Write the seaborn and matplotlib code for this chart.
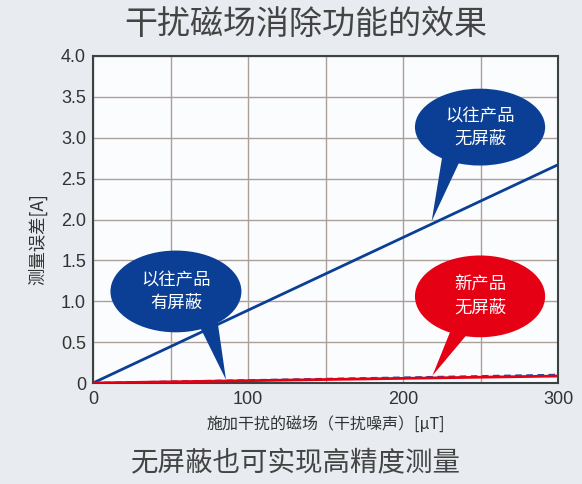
import matplotlib
matplotlib.use("Agg")
import matplotlib.pyplot as plt
import seaborn as sns
import pandas as pd
from matplotlib.patches import Ellipse, Polygon

# ---- data ----
field_uT = [0, 300]
old_unshielded = [0.0, 2.67]
old_shielded = [0.0, 0.10]
new_unshielded = [0.0, 0.085]
x_ticks = [0, 100, 200, 300]
y_ticks = [0, 0.5, 1.0, 1.5, 2.0, 2.5, 3.0, 3.5, 4.0]
y_tick_labels = ["0", "0.5", "1.0", "1.5", "2.0", "2.5", "3.0", "3.5", "4.0"]

title = "干扰磁场消除功能的效果"
subtitle = "无屏蔽也可实现高精度测量"
xlabel = "施加干扰的磁场（干扰噪声）[μT]"
ylabel = "测量误差[A]"

BLUE = "#0b3f95"
RED = "#e50014"
BG = "#e8ecf0"
CJK = ['Noto Sans CJK SC', 'DejaVu Sans']
NUM = ['Liberation Sans', 'Noto Sans CJK SC']

sns.set_theme(style="white")
plt.rcParams['font.family'] = CJK

df = pd.concat([
    pd.DataFrame({"x": field_uT, "y": old_unshielded, "s": "old_unshielded"}),
    pd.DataFrame({"x": field_uT, "y": old_shielded, "s": "old_shielded"}),
    pd.DataFrame({"x": field_uT, "y": new_unshielded, "s": "new_unshielded"}),
])

fig = plt.figure(figsize=(5.82, 4.84), dpi=100, facecolor=BG)
ax = fig.add_axes([93/582, 1-383/484, (558-93)/582, (383-56)/484])
ax.set_facecolor("#fbfcfd")

sns.lineplot(data=df[df.s == "old_unshielded"], x="x", y="y", color=BLUE, lw=2.0, ax=ax, zorder=3)
sns.lineplot(data=df[df.s == "old_shielded"], x="x", y="y", color="#1f4fa8", lw=1.6, ls=(0, (3, 2)), ax=ax, zorder=3)
sns.lineplot(data=df[df.s == "new_unshielded"], x="x", y="y", color=RED, lw=2.0, ax=ax, zorder=4)

ax.set_xlim(0, 300)
ax.set_ylim(0, 4.0)
ax.set_xticks(x_ticks)
ax.set_xticks([50, 150, 250], minor=True)
ax.set_yticks(y_ticks)
ax.set_yticklabels(y_tick_labels)
ax.grid(True, which="both", color="#ab9f9a", lw=1.0)
ax.tick_params(axis="both", which="both", length=0, labelsize=13, colors="#333333")
ax.tick_params(axis="x", pad=6)
ax.tick_params(axis="y", pad=5)
for lab in ax.get_xticklabels() + ax.get_yticklabels():
    lab.set_family(NUM)
for sp in ax.spines.values():
    sp.set_color("#3a4244")
    sp.set_linewidth(1.5)
    sp.set_visible(True)

ax.set_xlabel(xlabel, fontsize=11.5, color="#333333", labelpad=6)
ax.set_ylabel(ylabel, fontsize=12.5, color="#333333")
ax.yaxis.set_label_coords(-0.098, 0.44)

def callout(cx, cy, w, h, base, tip, color, text):
    ax.add_patch(Polygon([base[0], base[1], tip], closed=True, fc=color, ec="none", zorder=5, clip_on=False))
    ax.add_patch(Ellipse((cx, cy), w, h, fc=color, ec="none", zorder=6, clip_on=False))
    ax.text(cx, cy, text, color="white", ha="center", va="center", fontsize=12.5,
            linespacing=1.35, zorder=7)

callout(249.7, 3.13, 84, 0.94, [(226, 2.85), (240, 2.85)], (218.5, 1.98), BLUE, "以往产品\n无屏蔽")
callout(53.5, 1.12, 84.5, 1.0, [(66, 0.8), (80, 0.8)], (85.8, 0.04), BLUE, "以往产品\n有屏蔽")
callout(249.7, 1.06, 84, 1.0, [(232, 0.7), (246, 0.7)], (219, 0.09), RED, "新产品\n无屏蔽")

fig.text(306/582, 1-24/484, title, ha="center", va="center", fontsize=23.8, color="#444444")
fig.text(296/582, 1-463/484, subtitle, ha="center", va="center", fontsize=19.8, color="#444444")

fig.savefig("out.png", dpi=100, facecolor=BG)
